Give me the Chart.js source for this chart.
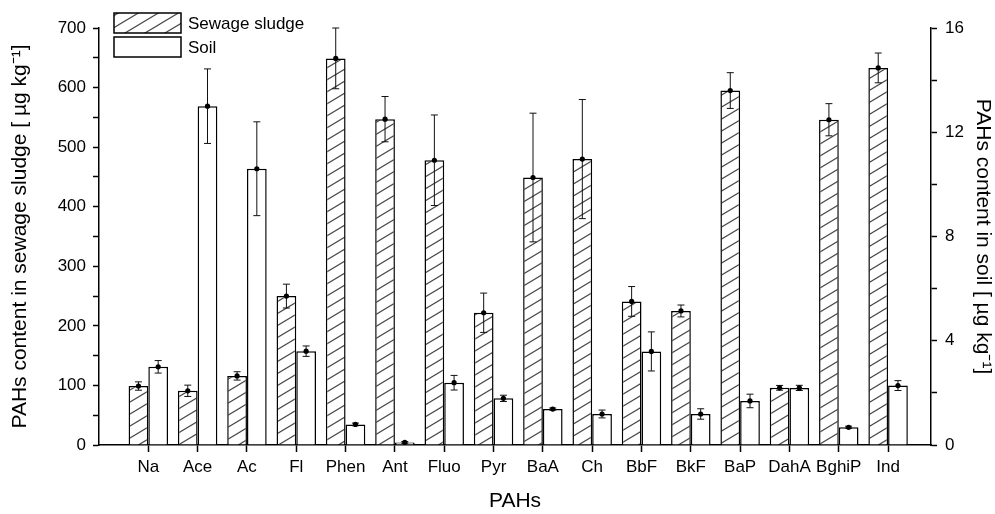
<!DOCTYPE html>
<html>
<head>
<meta charset="utf-8">
<script src="https://cdn.jsdelivr.net/npm/chart.js@4.4.1/dist/chart.umd.min.js"></script>
<style>
  html, body { margin: 0; padding: 0; background: #fff; }
</style>
</head>
<body>
<canvas id="c" width="995" height="514"></canvas>
<script>
// PAH names on the x axis
const names = ["Na", "Ace", "Ac", "Fl", "Phen", "Ant", "Fluo", "Pyr", "BaA", "Ch", "BbF", "BkF", "BaP", "DahA", "BghiP", "Ind"];
// category positions on the x axis
const positions = [1, 2, 3, 4, 5, 6, 7, 8, 9, 10, 11, 12, 13, 14, 15, 16];

// sewage sludge, left axis
const sludge = [99, 91, 116, 250, 649, 547, 478, 222, 449, 480, 241, 225, 595, 96, 546, 633];
const sludgeErr = [7, 9.5, 7, 20, 51, 38, 76, 33, 108, 100, 25, 10, 30, 4, 27, 25];

// soil, right axis
const soil = [3.0, 13.0, 10.6, 3.6, 0.79, 0.1, 2.39, 1.79, 1.38, 1.19, 3.59, 1.19, 1.69, 2.19, 0.68, 2.28];
const soilErr = [0.24, 1.43, 1.8, 0.2, 0.05, 0.03, 0.28, 0.12, 0.04, 0.15, 0.75, 0.2, 0.26, 0.1, 0.04, 0.19];

// axis ticks
const leftTicks = [0, 50, 100, 150, 200, 250, 300, 350, 400, 450, 500, 550, 600, 650, 700];
const leftLabels = [0, 100, 200, 300, 400, 500, 600, 700];
const rightTicks = [0, 2, 4, 6, 8, 10, 12, 14, 16];
const rightLabels = [0, 4, 8, 12, 16];

const FONT = "'Liberation Sans', Arial, sans-serif";

// diagonal hatch used for sewage sludge bars
function makeHatch() {
  const c = document.createElement("canvas");
  c.width = 20;
  c.height = 12;
  const g = c.getContext("2d");
  g.fillStyle = "#fff";
  g.fillRect(0, 0, 20, 12);
  g.strokeStyle = "#4a4a4a";
  g.lineWidth = 1.2;
  g.beginPath();
  for (let k = -1; k <= 1; k++) {
    g.moveTo(-2, 12 + 1.2 + 12 * k);
    g.lineTo(22, 12 - 13.2 + 12 * k);
  }
  g.stroke();
  return g.createPattern(c, "repeat");
}
const hatch = makeHatch();

function toPoints(vals) {
  return vals.map((v, i) => ({ x: positions[i], y: v }));
}

// error bars with a dot at the mean
const errorBars = {
  id: "errorBars",
  afterDatasetsDraw(chart) {
    const ctx = chart.ctx;
    ctx.save();
    chart.data.datasets.forEach((ds, i) => {
      const meta = chart.getDatasetMeta(i);
      const ys = chart.scales[ds.yAxisID];
      meta.data.forEach((bar, j) => {
        const v = ds.data[j].y;
        const e = ds.errors[j];
        const x = bar.x;
        const yTop = ys.getPixelForValue(v + e);
        const yBot = ys.getPixelForValue(Math.max(v - e, 0));
        ctx.strokeStyle = "#111";
        ctx.lineWidth = 1;
        ctx.beginPath();
        ctx.moveTo(x, yTop);
        ctx.lineTo(x, yBot);
        ctx.moveTo(x - 3.5, yTop);
        ctx.lineTo(x + 3.5, yTop);
        ctx.moveTo(x - 3.5, yBot);
        ctx.lineTo(x + 3.5, yBot);
        ctx.stroke();
        ctx.fillStyle = "#000";
        ctx.beginPath();
        ctx.arc(x, ys.getPixelForValue(v), 2.6, 0, Math.PI * 2);
        ctx.fill();
      });
    });
    ctx.restore();
  }
};

// legend boxes in the upper left corner
const boxLegend = {
  id: "boxLegend",
  afterDraw(chart) {
    const ctx = chart.ctx;
    ctx.save();
    chart.data.datasets.forEach((ds, i) => {
      const y = 13 + i * 24;
      ctx.fillStyle = ds.backgroundColor;
      ctx.fillRect(114, y, 67, 20);
      ctx.strokeStyle = "#000";
      ctx.lineWidth = 1.5;
      ctx.strokeRect(114, y, 67, 20);
      ctx.fillStyle = "#000";
      ctx.font = "17px " + FONT;
      ctx.textBaseline = "middle";
      ctx.fillText(ds.label, 188, y + 11);
    });
    ctx.restore();
  }
};

const ctx = document.getElementById("c").getContext("2d");
new Chart(ctx, {
  type: "bar",
  data: {
    datasets: [
      {
        label: "Sewage sludge",
        data: toPoints(sludge),
        errors: sludgeErr,
        yAxisID: "y",
        backgroundColor: hatch,
        borderColor: "#000",
        borderWidth: 1.5,
      },
      {
        label: "Soil",
        data: toPoints(soil),
        errors: soilErr,
        yAxisID: "y2",
        backgroundColor: "#fff",
        borderColor: "#000",
        borderWidth: 1.5,
      },
    ],
  },
  options: {
    responsive: false,
    animation: false,
    categoryPercentage: 0.8,
    barPercentage: 1,
    layout: { padding: { top: 28, left: 0, right: 0, bottom: 0 } },
    plugins: {
      legend: { display: false },
      tooltip: { enabled: false },
    },
    scales: {
      x: {
        type: "linear",
        offset: false,
        min: 0,
        max: 16.87,
        afterBuildTicks: (s) => { s.ticks = positions.map((v) => ({ value: v })); },
        afterFit: (s) => { s.height = 69; },
        grid: { offset: false, drawOnChartArea: false, tickLength: 7, tickColor: "#000", tickWidth: 1.5 },
        border: { color: "#000", width: 1.5 },
        ticks: {
          color: "#000",
          padding: 5,
          font: { family: FONT, size: 17 },
          maxRotation: 0,
          autoSkip: false,
          callback: (v) => names[positions.indexOf(v)] || "",
        },
        title: {
          display: true,
          text: "PAHs",
          color: "#000",
          font: { family: FONT, size: 21, lineHeight: 1.2 },
          padding: { top: 0, bottom: 0 },
        },
      },
      y: {
        position: "left",
        min: 0,
        max: 700,
        afterBuildTicks: (s) => { s.ticks = leftTicks.map((v) => ({ value: v })); },
        afterFit: (s) => { s.width = 99; },
        grid: { drawOnChartArea: false, tickLength: 6, tickColor: "#000", tickWidth: 1.5 },
        border: { color: "#000", width: 1.5 },
        ticks: {
          color: "#000",
          padding: 7,
          font: { family: FONT, size: 17 },
          callback: (v) => (leftLabels.includes(v) ? String(v) : ""),
        },
        title: {
          display: true,
          text: "PAHs content in sewage sludge [ µg kg⁻¹]",
          color: "#000",
          font: { family: FONT, size: 21, lineHeight: 1.2 },
          padding: { top: 8, bottom: 0 },
        },
      },
      y2: {
        position: "right",
        min: 0,
        max: 16,
        afterBuildTicks: (s) => { s.ticks = rightTicks.map((v) => ({ value: v })); },
        afterFit: (s) => { s.width = 64; },
        grid: { drawOnChartArea: false, tickLength: 6, tickColor: "#000", tickWidth: 1.5 },
        border: { color: "#000", width: 1.5 },
        ticks: {
          color: "#000",
          padding: 8,
          font: { family: FONT, size: 17 },
          callback: (v) => (rightLabels.includes(v) ? String(v) : ""),
        },
        title: {
          display: true,
          text: "PAHs content in soil [ µg kg⁻¹]",
          color: "#000",
          font: { family: FONT, size: 21, lineHeight: 1.2 },
          padding: { top: 0, bottom: 0 },
        },
      },
    },
  },
  plugins: [errorBars, boxLegend],
});
</script>
</body>
</html>
